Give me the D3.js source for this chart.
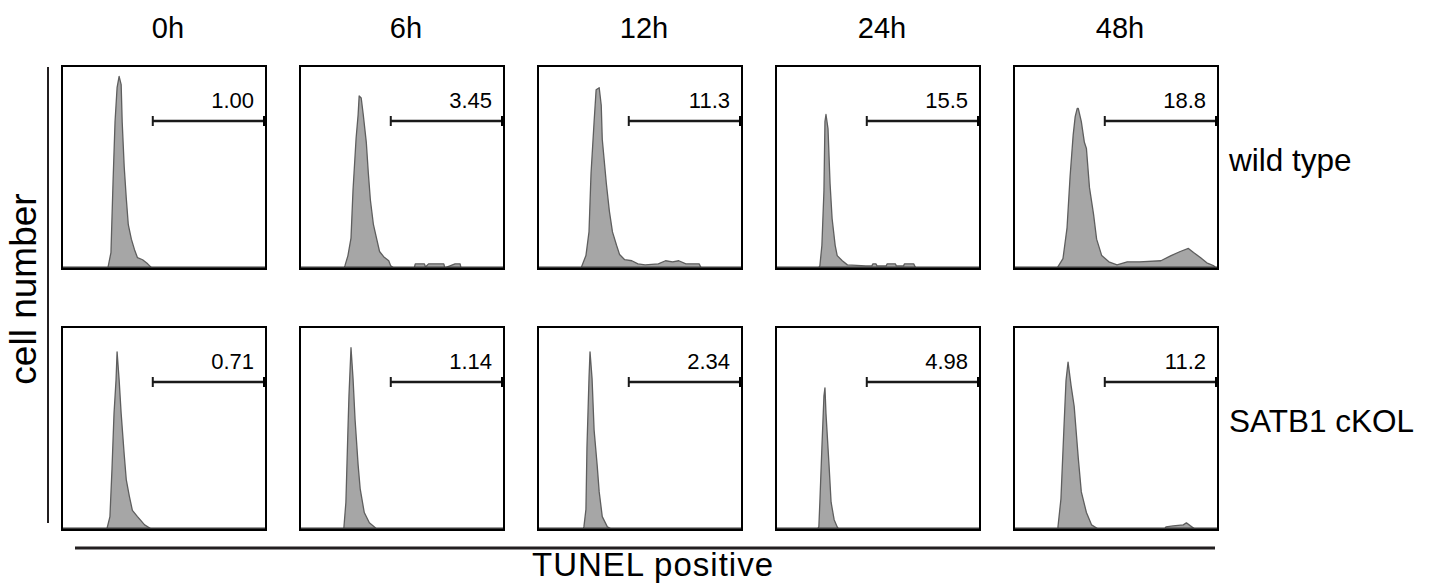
<!DOCTYPE html>
<html>
<head>
<meta charset="utf-8">
<script src="https://cdn.jsdelivr.net/npm/d3@7"></script>
<style>
  html, body { margin: 0; padding: 0; background: #fff; }
  svg { display: block; }
  text { font-family: "Liberation Sans", Arial, Helvetica, sans-serif; fill: #000; }
</style>
</head>
<body>
<svg id="chart" width="1438" height="585"></svg>
<script>
// ---------------- DATA ----------------
const timepoints = ["0h", "6h", "12h", "24h", "48h"];
const genotypes = ["wild type", "SATB1 cKOL"];
const gateValuesWT = ["1.00", "3.45", "11.3", "15.5", "18.8"];
const gateValuesKO = ["0.71", "1.14", "2.34", "4.98", "11.2"];
const gateRange = [89, 200];   // TUNEL channel gate (start, end)

// histogram outlines: [TUNEL channel, cell count]
const wt0h  = [[44,0],[45,1],[48,16],[50,83],[52,143],[54,176],[56,187],[58,179],[59,143],[61,99],[63,69],[65,43],[68,29],[71,19],[74,11],[79,9],[84,5],[88,1],[90,0]];
const wt6h  = [[43,0],[44,3],[47,13],[50,30],[52,77],[55,127],[57,150],[58,168],[60,166],[62,150],[65,123],[67,93],[69,67],[72,43],[75,30],[78,17],[82,12],[87,8],[89,3],[92,1],[112,1],[113,5],[122,5],[123,2],[126,5],[141,5],[142,1],[152,5],[157,5],[158,0]];
const wt12h = [[42,0],[43,3],[47,13],[50,36],[52,93],[55,143],[57,174],[60,176],[62,159],[63,126],[67,83],[70,56],[73,36],[77,23],[80,14],[85,9],[92,8],[98,5],[105,4],[118,5],[125,8],[132,7],[138,8],[145,5],[158,5],[160,1],[161,0]];
const wt24h = [[41,0],[43,3],[45,23],[47,76],[48,143],[49,150],[51,136],[53,83],[55,49],[58,23],[60,13],[65,8],[70,4],[88,3],[94,3],[95,5],[98,5],[99,3],[108,3],[109,5],[117,5],[118,3],[125,3],[126,5],[135,5],[137,1],[138,0]];
const wt48h = [[42,0],[43,2],[48,10],[52,40],[55,90],[58,130],[60,148],[62,156],[63,156],[66,143],[69,123],[71,117],[74,79],[78,53],[81,29],[86,13],[93,7],[101,4],[111,7],[123,7],[144,8],[154,13],[163,17],[171,20],[176,16],[183,11],[189,6],[196,3],[199,0]];
const ko0h  = [[43,0],[44,1],[47,13],[49,59],[51,113],[53,146],[54,173],[56,146],[58,113],[61,73],[63,49],[66,33],[69,19],[74,13],[81,5],[86,2],[88,0]];
const ko6h  = [[42,0],[43,2],[45,27],[47,97],[48,130],[50,177],[52,147],[54,107],[57,63],[59,40],[63,17],[68,7],[73,3],[76,0]];
const ko12h = [[44,0],[45,3],[47,20],[48,80],[50,147],[51,173],[53,147],[55,97],[58,63],[60,37],[63,13],[68,3],[72,1],[74,0]];
const ko24h = [[40,0],[42,3],[43,27],[45,80],[47,130],[48,138],[49,113],[52,63],[54,27],[57,10],[60,3],[62,0]];
const ko48h = [[42,0],[43,2],[46,30],[49,100],[51,145],[53,163],[56,140],[59,120],[63,70],[66,37],[71,17],[76,5],[81,2],[84,0],[147,0],[149,3],[156,4],[166,5],[169,7],[173,4],[176,2],[178,0]];

const histograms = [
  [wt0h, wt6h, wt12h, wt24h, wt48h],
  [ko0h, ko6h, ko12h, ko24h, ko48h]
];
const gateLabels = [gateValuesWT, gateValuesKO];

// ---------------- LAYOUT ----------------
const svg = d3.select("#chart");
const panelW = 204, panelH = 203;
const colX = d3.scalePoint().domain(timepoints).range([62, 1014]);
const rowY = d3.scalePoint().domain(genotypes).range([66, 327]);

const x = d3.scaleLinear().domain([0, 200]).range([0, panelW]);
const y = d3.scaleLinear().domain([0, 200]).range([panelH, panelH - 206]);

const area = d3.area()
  .x(d => x(d[0]))
  .y0(y(0))
  .y1(d => y(d[1]))
  .curve(d3.curveLinear);

// column titles
svg.selectAll("text.col")
  .data(timepoints)
  .join("text")
  .attr("class", "col")
  .attr("x", d => colX(d) + panelW / 2 + 4)
  .attr("y", 38)
  .attr("text-anchor", "middle")
  .attr("font-size", 29)
  .text(d => d);

// row labels
svg.selectAll("text.row")
  .data(genotypes)
  .join("text")
  .attr("class", "row")
  .attr("x", 1229)
  .attr("y", d => rowY(d) + 105)
  .attr("font-size", 31.5)
  .text(d => d);

genotypes.forEach((g, gi) => {
  timepoints.forEach((t, ti) => {
    const p = svg.append("g")
      .attr("transform", `translate(${colX(t)},${rowY(g)})`);

    p.append("path")
      .datum(histograms[gi][ti])
      .attr("d", area)
      .attr("fill", "#a6a6a6")
      .attr("stroke", "#5e5e5e")
      .attr("stroke-width", 1.3)
      .attr("stroke-linejoin", "round");

    // baseline
    p.append("line")
      .attr("x1", 0).attr("x2", panelW)
      .attr("y1", panelH - 1).attr("y2", panelH - 1)
      .attr("stroke", "#3a3a3a").attr("stroke-width", 3);

    // frame
    p.append("rect")
      .attr("x", 0).attr("y", 0)
      .attr("width", panelW).attr("height", panelH)
      .attr("fill", "none")
      .attr("stroke", "#000").attr("stroke-width", 2);

    // gate
    const gy = 55;
    p.append("line")
      .attr("x1", x(gateRange[0])).attr("x2", x(gateRange[1]))
      .attr("y1", gy).attr("y2", gy)
      .attr("stroke", "#1a1a1a").attr("stroke-width", 2.5);
    p.append("line")
      .attr("x1", x(gateRange[0])).attr("x2", x(gateRange[0]))
      .attr("y1", gy - 5).attr("y2", gy + 5)
      .attr("stroke", "#1a1a1a").attr("stroke-width", 2);
    p.append("rect")
      .attr("x", x(gateRange[1]) - 3).attr("y", gy - 5)
      .attr("width", 4).attr("height", 10)
      .attr("fill", "#000");

    p.append("text")
      .attr("x", panelW - 12)
      .attr("y", 42)
      .attr("text-anchor", "end")
      .attr("font-size", 22)
      .text(gateLabels[gi][ti]);
  });
});

// y axis label line
svg.append("line")
  .attr("x1", 48).attr("x2", 48)
  .attr("y1", 67).attr("y2", 523)
  .attr("stroke", "#231f20").attr("stroke-width", 2);

svg.append("text")
  .attr("transform", "translate(36,289) rotate(-90)")
  .attr("text-anchor", "middle")
  .attr("font-size", 37)
  .text("cell number");

// x axis label line
svg.append("line")
  .attr("x1", 75).attr("x2", 1215)
  .attr("y1", 548).attr("y2", 548)
  .attr("stroke", "#231f20").attr("stroke-width", 3);

svg.append("text")
  .attr("x", 653)
  .attr("y", 576)
  .attr("text-anchor", "middle")
  .attr("font-size", 33)
  .attr("letter-spacing", 1)
  .text("TUNEL positive");
</script>
</body>
</html>
